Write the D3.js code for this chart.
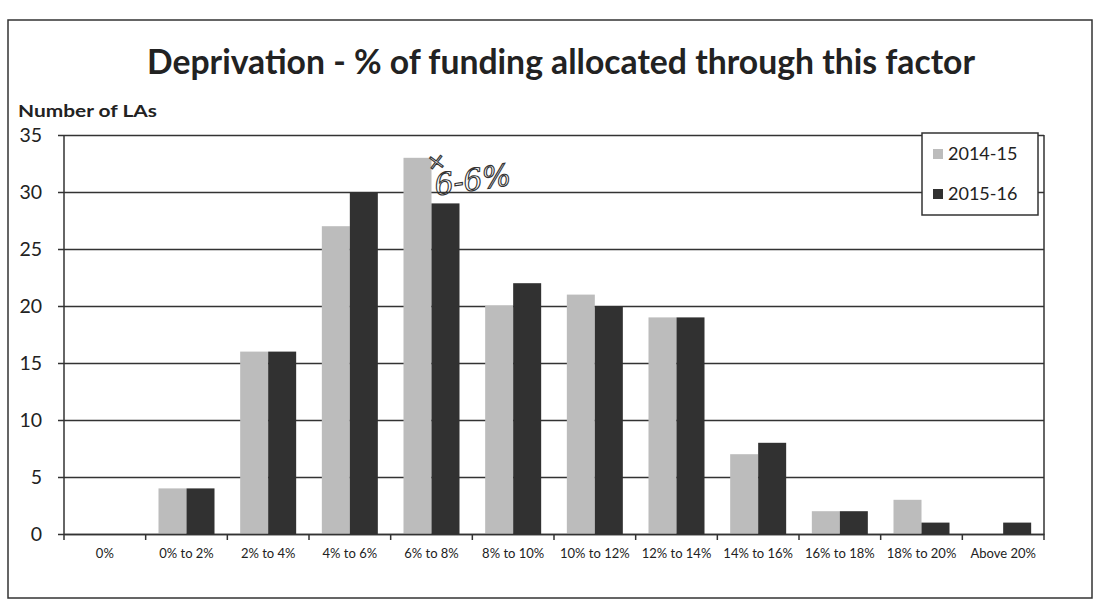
<!DOCTYPE html>
<html><head><meta charset="utf-8">
<script src="https://cdn.jsdelivr.net/npm/d3@7"></script>
<style>body{margin:0;background:#fff}</style>
</head><body><svg id="c" width="1105" height="612"></svg>
<script>
const categories = ["0%","0% to 2%","2% to 4%","4% to 6%","6% to 8%","8% to 10%","10% to 12%","12% to 14%","14% to 16%","16% to 18%","18% to 20%","Above 20%"];
const values2014 = [0,4,16,27,33,20,21,19,7,2,3,0];
const values2015 = [0,4,16,30,29,22,20,19,8,2,1,1];
const seriesNames = ["2014-15","2015-16"];
const seriesColors = ["#bcbcbc","#313131"];
const yTicks = [0,5,10,15,20,25,30,35];
const titleText = "Deprivation - % of funding allocated through this factor";
const yAxisTitle = "Number of LAs";
const annotationMark = "×";
const annotation = "6-6%";

const svg = d3.select("#c");
const W = 1105, H = 612;
const m = {left:64, right:1044, top:135, bottom:534};
const font = "Lato, 'Open Sans', sans-serif";

svg.append("rect").attr("width",W).attr("height",H).attr("fill","#fff");
// outer frame
svg.append("rect").attr("x",8).attr("y",20).attr("width",1084).attr("height",578)
  .attr("fill","none").attr("stroke","#333").attr("stroke-width",1.5);

const x0 = d3.scaleBand().domain(categories).range([m.left,m.right]).padding(0);
const groupW = 56;
const x1 = d3.scaleBand().domain(seriesNames).range([0,groupW]).padding(0);
const y = d3.scaleLinear().domain([0,35]).range([m.bottom,m.top]);

// gridlines
const yAxis = d3.axisLeft(y).tickValues(yTicks).tickSize(-(m.right-m.left)).tickSizeOuter(0).tickPadding(14);
const gy = svg.append("g").attr("transform",`translate(${m.left},0)`).call(yAxis);
gy.select(".domain").remove();
gy.selectAll(".tick line").attr("stroke","#333").attr("stroke-width",1.5).attr("x1",-6);
gy.selectAll(".tick text").attr("font-family",font).attr("font-size",19.5).attr("fill","#222").attr("x",-22);

// plot border right
svg.append("line").attr("x1",m.right).attr("x2",m.right).attr("y1",m.top).attr("y2",m.bottom)
  .attr("stroke","#333").attr("stroke-width",1.5);

// bars
const data = categories.map((c,i)=>({cat:c, vals:[values2014[i], values2015[i]]}));
const g = svg.append("g");
data.forEach(d=>{
  seriesNames.forEach((s,j)=>{
    const v = d.vals[j];
    if (v<=0) return;
    g.append("rect")
      .attr("x", x0(d.cat) + (x0.bandwidth()-groupW)/2 + x1(s))
      .attr("y", y(v))
      .attr("width", x1.bandwidth())
      .attr("height", y(0)-y(v))
      .attr("fill", seriesColors[j]);
  });
});

// x axis
const xAxis = d3.axisBottom(x0).tickSize(0).tickPadding(15);
const gx = svg.append("g").attr("transform",`translate(0,${m.bottom})`).call(xAxis);
gx.select(".domain").attr("stroke","#333").attr("stroke-width",1.5);
gx.selectAll(".tick text").attr("font-family",font).attr("font-size",13).attr("fill","#222");
// boundary ticks
const bounds = categories.map(c=>x0(c)).concat([m.right]);
svg.append("g").selectAll("line").data(bounds).join("line")
  .attr("x1",d=>d).attr("x2",d=>d).attr("y1",m.bottom).attr("y2",m.bottom+6)
  .attr("stroke","#333").attr("stroke-width",1.5);
// y axis line
svg.append("line").attr("x1",m.left).attr("x2",m.left).attr("y1",m.top).attr("y2",m.bottom)
  .attr("stroke","#333").attr("stroke-width",1.5);

// title
svg.append("text").attr("x",561).attr("y",74).attr("text-anchor","middle")
  .attr("font-family",font).attr("font-weight","bold").attr("font-size",34).attr("fill","#222")
  .attr("textLength",828).attr("lengthAdjust","spacingAndGlyphs").text(titleText);
svg.append("text").attr("x",18).attr("y",117)
  .attr("font-family",font).attr("font-weight","bold").attr("font-size",17).attr("fill","#222")
  .attr("textLength",139).attr("lengthAdjust","spacingAndGlyphs").text(yAxisTitle);

// legend
const lg = svg.append("g");
lg.append("rect").attr("x",922).attr("y",133).attr("width",116).attr("height",82)
  .attr("fill","#fff").attr("stroke","#333").attr("stroke-width",1.5);
seriesNames.forEach((s,i)=>{
  const cy = 154 + i*40;
  lg.append("rect").attr("x",933).attr("y",cy-5).attr("width",10).attr("height",10).attr("fill",seriesColors[i]);
  lg.append("text").attr("x",948).attr("y",cy).attr("dy","0.35em")
    .attr("font-family",font).attr("font-size",18).attr("fill","#222").text(s);
});

// handwritten annotation
const ann = svg.append("g").attr("transform","rotate(-8,460,180)")
  .attr("font-family","'DejaVu Serif', serif").attr("font-style","italic")
  .attr("fill","none").attr("stroke","#333").attr("stroke-width",1.1);
ann.append("text").attr("x",430).attr("y",166).attr("font-size",22).text(annotationMark);
ann.append("text").attr("x",434).attr("y",192).attr("font-size",30).text(annotation);
</script></body></html>
